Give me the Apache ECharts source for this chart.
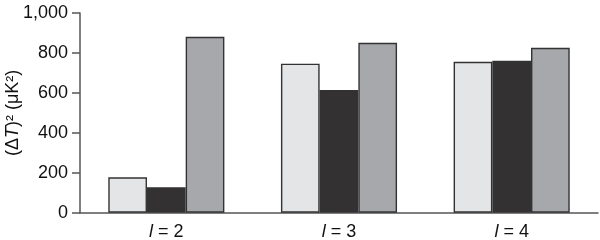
<!DOCTYPE html>
<html>
<head>
<meta charset="utf-8">
<script src="https://cdn.jsdelivr.net/npm/echarts@6/dist/echarts.min.js"></script>
<style>html,body{margin:0;padding:0;background:#fff}#c{width:600px;height:240px}</style>
</head>
<body>
<div id="c"></div>
<script>
const categories = ['2', '3', '4'];
const seriesLight = [177, 746, 756];
const seriesDark = [127, 614, 761];
const seriesGray = [881, 851, 826];
const yTicks = [0, 200, 400, 600, 800, 1000];

const chart = echarts.init(document.getElementById('c'), null, {renderer: 'canvas'});
const font = '"Liberation Sans", Arial, Helvetica, sans-serif';
const txt = '#111';
const barStyle = (color) => ({color: color, borderColor: '#333', borderWidth: 1.4});
const mk = (name, data, color) => ({
  name: name, type: 'bar', data: data, barWidth: 38.7, barGap: '0%',
  itemStyle: barStyle(color), animation: false
});
chart.setOption({
  animation: false,
  grid: {left: 80, right: 2, top: 13, bottom: 27.3, containLabel: false, outerBoundsMode: 'none'},
  xAxis: {
    type: 'category', data: categories,
    axisLine: {lineStyle: {color: '#555', width: 1.5}},
    axisTick: {show: false},
    axisLabel: {
      margin: 10, color: txt, fontFamily: font, fontSize: 18,
      formatter: v => '{i|l} = ' + v,
      rich: {i: {fontStyle: 'italic', fontFamily: font, fontSize: 18, color: txt}}
    }
  },
  yAxis: {
    type: 'value', min: yTicks[0], max: yTicks[yTicks.length - 1], interval: 200,
    name: '(Δ{i|T})² (μK²)', nameLocation: 'middle', nameGap: 58, nameRotate: 90,
    nameMoveOverlap: false,
    nameTextStyle: {
      color: txt, fontFamily: font, fontSize: 18,
      rich: {i: {fontStyle: 'italic', fontFamily: font, fontSize: 18, color: txt}}
    },
    axisLine: {show: true, lineStyle: {color: '#555', width: 1.5}},
    axisTick: {show: true, length: 8, lineStyle: {color: '#555', width: 1.5}},
    splitLine: {show: false},
    axisLabel: {
      margin: 12, color: txt, fontFamily: font, fontSize: 18,
      formatter: v => v.toLocaleString('en-US')
    }
  },
  series: [
    mk('Series 1', seriesLight, '#e4e5e7'),
    mk('Series 2', seriesDark, '#333132'),
    mk('Series 3', seriesGray, '#a7a8ab')
  ]
});
</script>
</body>
</html>
